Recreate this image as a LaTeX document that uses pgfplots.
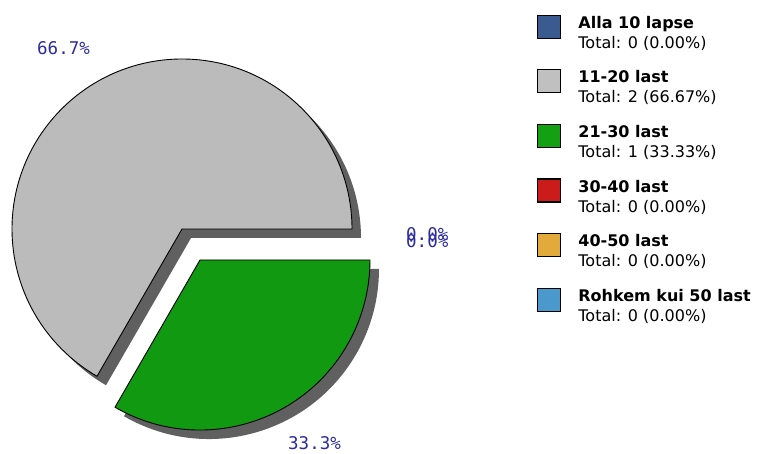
\documentclass[border=0pt]{standalone}
\usepackage{pgfplots}
\pgfplotsset{compat=1.18}
\usepackage{fontspec}
\newfontfamily\legfont{DejaVu Sans}
\newfontfamily\labfont{DejaVu Sans Mono}
\definecolor{pgray}{HTML}{BBBBBB}
\definecolor{pgreen}{HTML}{119A11}
\definecolor{shad}{HTML}{606060}
\definecolor{labblue}{HTML}{2C2CA0}
\definecolor{cA}{HTML}{3A5A90}
\definecolor{cB}{HTML}{C0C0C0}
\definecolor{cC}{HTML}{13A013}
\definecolor{cD}{HTML}{CC1B1B}
\definecolor{cE}{HTML}{E2A93B}
\definecolor{cF}{HTML}{4B99CC}
\pgfplotsset{sq/.style={legend image code/.code={\filldraw[fill=#1,draw=black,line width=1.2bp] (0bp,-4bp) rectangle (23bp,19bp);}}}
% slice values: Alla 10 lapse, 11-20, 21-30, 30-40, 40-50, >50
\def\vA{0}\def\vB{2}\def\vC{1}\def\vD{0}\def\vE{0}\def\vF{0}
\begin{document}
\begin{tikzpicture}
\useasboundingbox (0,0) rectangle (759bp,454bp);
\fill[white] (0,0) rectangle (759bp,454bp);
\pgfmathsetmacro{\tot}{\vA+\vB+\vC+\vD+\vE+\vF}
\pgfmathsetmacro{\sB}{360*\vA/\tot}
\pgfmathsetmacro{\eB}{\sB+360*\vB/\tot}
\pgfmathsetmacro{\eC}{\eB+360*\vC/\tot}
\begin{axis}[x=1bp,y=1bp,xmin=0,xmax=759,ymin=0,ymax=454,hide axis,clip=false,anchor=origin,at={(0,0)},
  legend style={at={(537/759,440/454)},anchor=north west,draw=none,fill=none,inner sep=0pt,
    row sep=14.6bp,column sep=17bp,
    nodes={inner sep=0pt,text depth=},font=\legfont\fontsize{16bp}{20bp}\selectfont},
  legend cell align=left]
% shadows
\fill[shad] (axis cs:191,216) -- ++(\sB:170bp) arc[start angle=\sB,end angle=\eB,radius=170bp] -- cycle;
\fill[shad] (axis cs:209,185) -- ++(\eB:170bp) arc[start angle=\eB,end angle=\eC,radius=170bp] -- cycle;
% slices
\filldraw[fill=pgray,draw=black,line width=0.9bp] (axis cs:182,225) -- ++(\sB:170bp) arc[start angle=\sB,end angle=\eB,radius=170bp] -- cycle;
\filldraw[fill=pgreen,draw=black,line width=0.9bp] (axis cs:200,194) -- ++(\eB:170bp) arc[start angle=\eB,end angle=\eC,radius=170bp] -- cycle;
% percentage labels
\node[anchor=base west,inner sep=0,text=labblue,font=\labfont\fontsize{17.5bp}{20bp}\selectfont] at (axis cs:37,399) {66.7\%};
\node[anchor=base west,inner sep=0,text=labblue,font=\labfont\fontsize{17.5bp}{20bp}\selectfont] at (axis cs:288,5) {33.3\%};
\node[anchor=base west,inner sep=0,text=labblue,font=\labfont\fontsize{17.5bp}{20bp}\selectfont] at (axis cs:406,214) {0.0\%};
\node[anchor=base west,inner sep=0,text=labblue,font=\labfont\fontsize{17.5bp}{20bp}\selectfont] at (axis cs:406,207) {0.0\%};
% legend
\addlegendimage{sq=cA}
\addlegendentry{\begin{tabular}{@{}l@{}}\textbf{Alla 10 lapse}\\Total: 0 (0.00\%)\end{tabular}}
\addlegendimage{sq=cB}
\addlegendentry{\begin{tabular}{@{}l@{}}\textbf{11-20 last}\\Total: 2 (66.67\%)\end{tabular}}
\addlegendimage{sq=cC}
\addlegendentry{\begin{tabular}{@{}l@{}}\textbf{21-30 last}\\Total: 1 (33.33\%)\end{tabular}}
\addlegendimage{sq=cD}
\addlegendentry{\begin{tabular}{@{}l@{}}\textbf{30-40 last}\\Total: 0 (0.00\%)\end{tabular}}
\addlegendimage{sq=cE}
\addlegendentry{\begin{tabular}{@{}l@{}}\textbf{40-50 last}\\Total: 0 (0.00\%)\end{tabular}}
\addlegendimage{sq=cF}
\addlegendentry{\begin{tabular}{@{}l@{}}\textbf{Rohkem kui 50 last}\\Total: 0 (0.00\%)\end{tabular}}
\end{axis}
\end{tikzpicture}
\end{document}
